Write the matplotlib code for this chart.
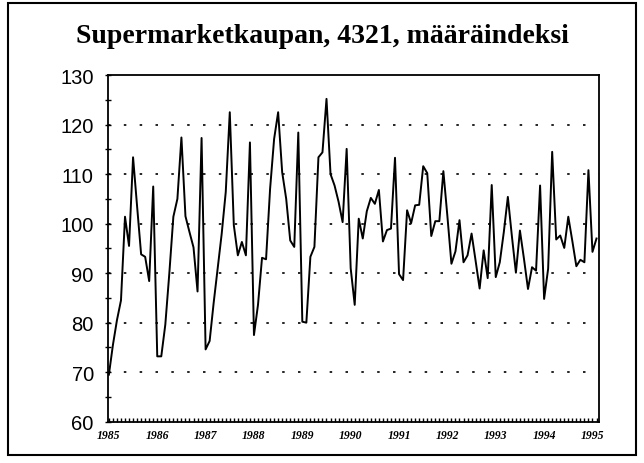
import matplotlib
matplotlib.use("Agg")
import matplotlib.pyplot as plt
from matplotlib.ticker import MultipleLocator, FixedLocator
from matplotlib.patches import Rectangle

title = "Supermarketkaupan, 4321, määräindeksi"
years = ["1985", "1986", "1987", "1988", "1989", "1990", "1991", "1992", "1993", "1994", "1995"]
yticks = [60, 70, 80, 90, 100, 110, 120, 130]

values = [
    69.5, 75.5, 80.5, 84.5, 101.4, 95.5, 113.4, 103.5, 93.8, 93.3, 88.4, 107.5,   # 1985
    73.2, 73.2, 79.6, 90.0, 101.4, 105.0, 117.4, 101.5, 98.3, 95.2, 86.3, 117.3,  # 1986
    74.6, 76.3, 84.0, 91.0, 98.0, 106.4, 122.5, 99.7, 93.6, 96.3, 93.6, 116.4,    # 1987
    77.5, 83.6, 93.1, 92.8, 107.0, 117.1, 122.5, 110.4, 105.0, 96.6, 95.3, 118.4, # 1988
    80.2, 80.0, 93.3, 95.3, 113.4, 114.4, 125.2, 110.0, 107.7, 104.4, 100.3, 115.1, # 1989
    91.0, 83.6, 101.0, 97.0, 102.5, 105.2, 104.0, 106.8, 96.4, 98.7, 99.0, 113.3, # 1990
    89.8, 88.6, 102.7, 100.1, 103.7, 103.8, 111.6, 110.2, 97.5, 100.5, 100.5, 110.6, # 1991
    101.5, 91.9, 94.4, 100.7, 92.2, 93.6, 98.0, 92.5, 86.9, 94.6, 89.0, 107.8,    # 1992
    89.2, 92.2, 98.3, 105.4, 97.5, 90.1, 98.6, 92.9, 86.8, 91.2, 90.5, 107.7,     # 1993
    84.8, 90.9, 114.5, 96.8, 97.6, 95.1, 101.4, 96.5, 91.4, 92.7, 92.2, 110.8,    # 1994
    94.3, 97.0,                                                                     # 1995
]
months = list(range(len(values)))

fig = plt.figure(figsize=(6.44, 4.64), dpi=100)
fig.patches.append(Rectangle((0.012, 0.017), 0.976, 0.975, transform=fig.transFigure,
                             fill=False, edgecolor="black", linewidth=1.5))

ax = fig.add_axes([0.1672, 0.089, 0.930 - 0.1672, 0.836 - 0.089])
ax.plot(months, values, color="black", linewidth=1.4)

ax.set_xlim(-0.3, 121.6)
ax.set_ylim(60, 130)

ax.yaxis.set_major_locator(FixedLocator(yticks))
ax.yaxis.set_minor_locator(MultipleLocator(5))
ax.set_yticklabels([str(t) for t in yticks], fontfamily="Liberation Sans", fontsize=14.5)

ax.xaxis.set_major_locator(FixedLocator([12 * i for i in range(len(years))]))
ax.xaxis.set_minor_locator(MultipleLocator(1))
ax.set_xticklabels(years, fontfamily="Liberation Serif", fontstyle="italic",
                   fontweight="bold", fontsize=8.5)

ax.tick_params(axis="y", which="both", direction="inout", length=4, width=1, pad=8)
ax.tick_params(axis="x", which="both", direction="in", length=3, width=1, pad=5)

for s in ax.spines.values():
    s.set_linewidth(1.3)

for v in [70, 80, 90, 100, 110, 120]:
    ax.axhline(v, color="black", linewidth=1.2, linestyle=(0, (1.5, 8)), zorder=0)

fig.text(0.5, 0.922, title, ha="center", va="center", fontfamily="Liberation Serif",
         fontweight="bold", fontsize=20)

fig.savefig("out.png", dpi=100)
